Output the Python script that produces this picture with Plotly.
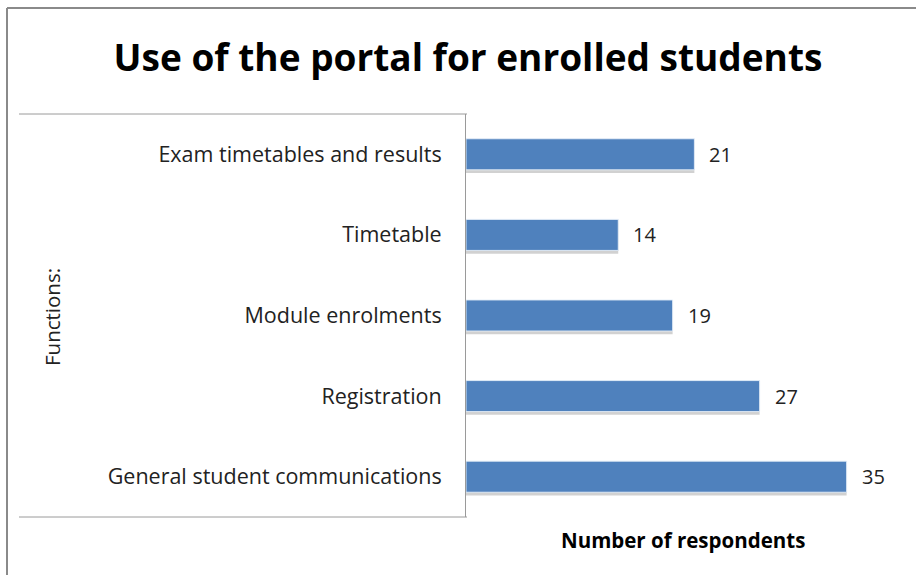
import plotly.graph_objects as go

categories = ["General student communications", "Registration", "Module enrolments",
              "Timetable", "Exam timetables and results"]
values = [35, 27, 19, 14, 21]

title_text = "Use of the portal for enrolled students"
x_title = "Number of respondents"
y_title = "Functions:"

W, H = 916, 575
def px(x): return x / W
def py(y): return 1 - y / H

BAR_W = 0.385
BAR_COLOR = "#4F81BD"
FONT = "Open Sans"

fig = go.Figure()
# soft shadow under bars
fig.add_trace(go.Bar(
    y=categories, x=values, orientation="h",
    width=BAR_W, offset=-BAR_W / 2 - 0.04, base=0.0,
    marker=dict(color="rgba(0,0,0,0.18)", line=dict(width=0)),
    hoverinfo="skip", showlegend=False,
))
fig.add_trace(go.Bar(
    y=categories, x=values, orientation="h",
    width=BAR_W,
    marker=dict(color=BAR_COLOR, line=dict(color="rgba(230,238,248,0.9)", width=1)),
    showlegend=False,
))

x0, x1 = 466, 901
y0, y1 = 114, 517
fig.update_layout(
    width=W, height=H,
    margin=dict(l=0, r=0, t=0, b=0),
    paper_bgcolor="white", plot_bgcolor="white",
    barmode="overlay",
    title=dict(text=title_text, x=px(468), y=py(58), xanchor="center", yanchor="middle",
               font=dict(family=FONT, size=37, color="black", weight="bold")),
    xaxis=dict(domain=[px(x0), px(x1)], range=[0, 40], showticklabels=False,
               showgrid=False, zeroline=False, showline=False, ticks=""),
    yaxis=dict(domain=[py(y1), py(y0)], range=[-0.5, 4.5], showgrid=False,
               showline=True, linecolor="#9a9a9a", linewidth=1, ticks="",
               ticklabelstandoff=19,
               tickfont=dict(family=FONT, size=21.5, color="#222")),
    font=dict(family=FONT),
    shapes=[
        dict(type="line", xref="paper", yref="paper", x0=px(7), x1=1, y0=py(8), y1=py(8),
             line=dict(color="#8a8a8a", width=2)),
        dict(type="line", xref="paper", yref="paper", x0=px(7), x1=px(7), y0=py(8), y1=0,
             line=dict(color="#8a8a8a", width=2)),
        dict(type="line", xref="paper", yref="paper", x0=px(19), x1=px(467), y0=py(y0), y1=py(y0),
             line=dict(color="#9a9a9a", width=1)),
        dict(type="line", xref="paper", yref="paper", x0=px(19), x1=px(467), y0=py(y1), y1=py(y1),
             line=dict(color="#9a9a9a", width=1)),
    ],
    annotations=[
        dict(text=x_title, xref="paper", yref="paper", x=px(683), y=py(540),
             showarrow=False, xanchor="center", yanchor="middle",
             font=dict(family=FONT, size=20.5, color="black", weight="bold")),
        dict(text=y_title, xref="paper", yref="paper", x=px(52), y=py(317), textangle=-90,
             showarrow=False, xanchor="center", yanchor="middle",
             font=dict(family=FONT, size=20.5, color="#222")),
    ],
)

for c, v in zip(categories, values):
    fig.add_annotation(x=v, y=c, text=str(v), showarrow=False, xanchor="left",
                       xshift=13, font=dict(family=FONT, size=20, color="#222"))

fig.write_html("out.html")
